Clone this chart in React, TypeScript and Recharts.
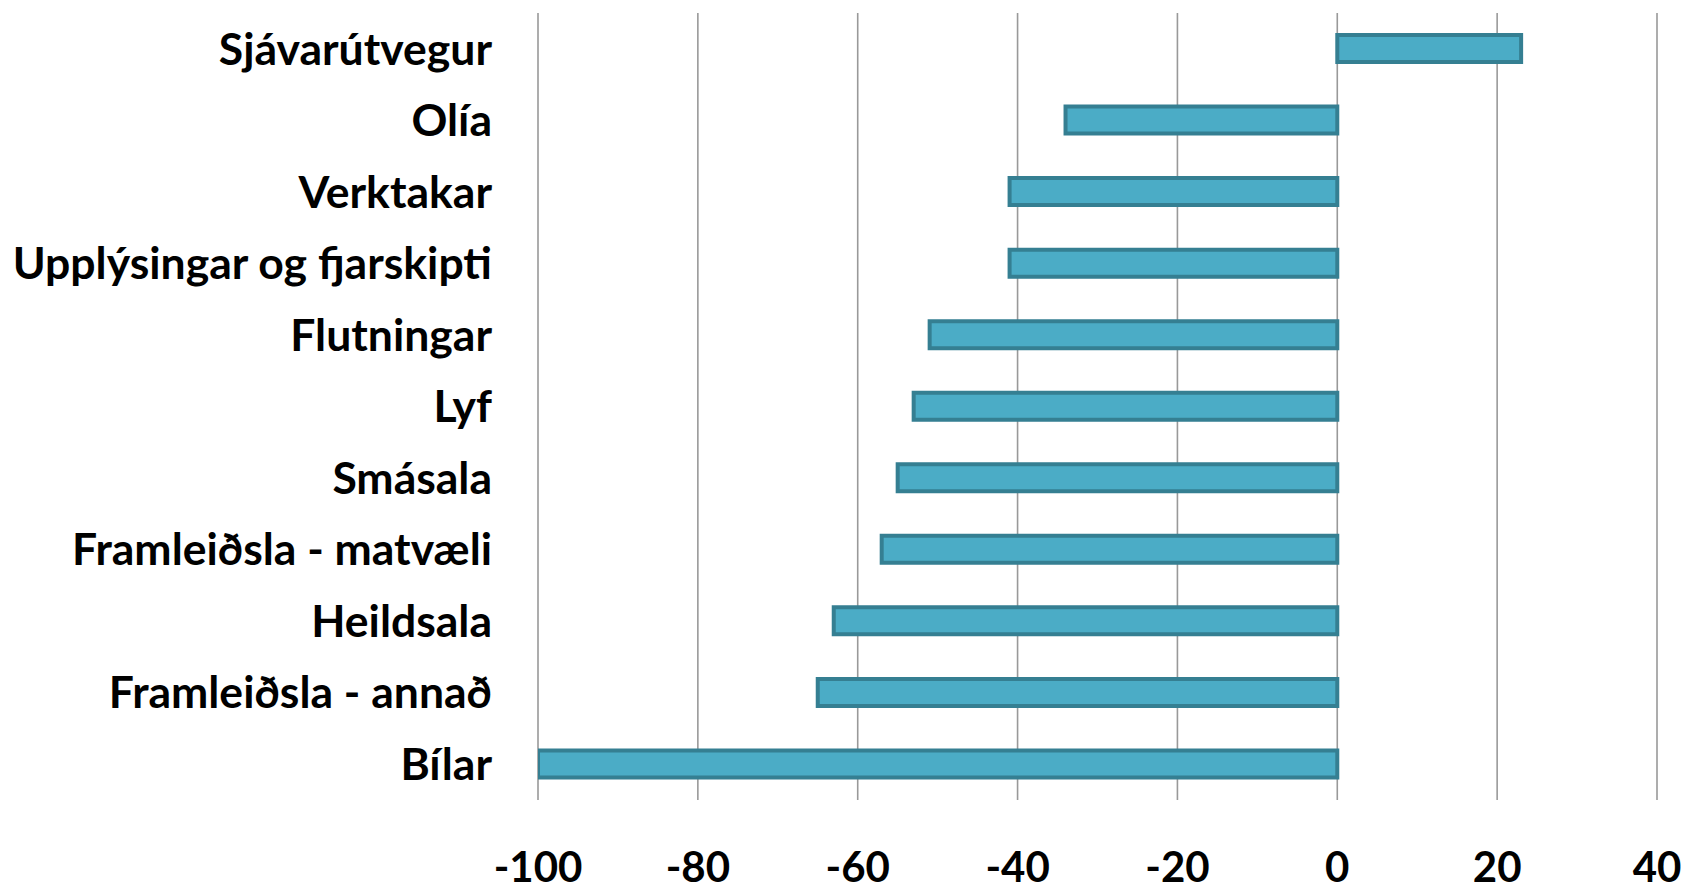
import React from "react";
import { BarChart, Bar, XAxis, YAxis, CartesianGrid } from "recharts";

const categories = [
  "Sjávarútvegur",
  "Olía",
  "Verktakar",
  "Upplýsingar og fjarskipti",
  "Flutningar",
  "Lyf",
  "Smásala",
  "Framleiðsla - matvæli",
  "Heildsala",
  "Framleiðsla - annað",
  "Bílar",
];
const values = [23, -34, -41, -41, -51, -53, -55, -57, -63, -65, -100];
const xTicks = [-100, -80, -60, -40, -20, 0, 20, 40];

const data = categories.map((name, i) => ({ name, value: values[i] }));

export default function App() {
  return (
    <div style={{ position: "absolute", left: 0, top: 0, width: 1685, height: 894, background: "#fff" }}>
      <BarChart
        width={1685}
        height={894}
        data={data}
        layout="vertical"
        margin={{ top: 13, right: 28, bottom: 0, left: 0 }}
      >
        <CartesianGrid horizontal={false} vertical={true} stroke="#999999" strokeWidth={1.6} />
        <XAxis
          type="number"
          domain={[-100, 40]}
          ticks={xTicks}
          allowDataOverflow
          axisLine={false}
          tickLine={false}
          height={94}
          tickMargin={46}
          tick={{ fill: "#000", fontFamily: "Lato", fontWeight: 700, fontSize: 42 }}
        />
        <YAxis
          type="category"
          dataKey="name"
          width={538}
          axisLine={false}
          tickLine={false}
          tickMargin={40}
          interval={0}
          tick={{ fill: "#000", fontFamily: "Lato", fontWeight: 700, fontSize: 44.5 }}
        />
        <Bar
          dataKey="value"
          fill="#4bacc6"
          stroke="#357f92"
          strokeWidth={4}
          barSize={27}
          isAnimationActive={false}
        />
      </BarChart>
    </div>
  );
}
